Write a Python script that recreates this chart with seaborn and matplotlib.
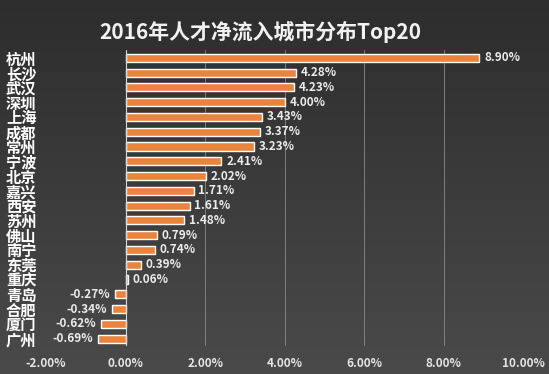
import numpy as np
import pandas as pd
import matplotlib.pyplot as plt
import seaborn as sns

# data
cities = ["杭州", "长沙", "武汉", "深圳", "上海", "成都", "常州", "宁波", "北京", "嘉兴",
          "西安", "苏州", "佛山", "南宁", "东莞", "重庆", "青岛", "合肥", "厦门", "广州"]
net_inflow = [8.90, 4.28, 4.23, 4.00, 3.43, 3.37, 3.23, 2.41, 2.02, 1.71,
              1.61, 1.48, 0.79, 0.74, 0.39, 0.06, -0.27, -0.34, -0.62, -0.69]
x_ticks = [-2, 0, 2, 4, 6, 8, 10]

df = pd.DataFrame({"city": cities, "value": net_inflow})

sns.set_theme(style="dark")
plt.rcParams["font.family"] = ["Noto Sans CJK SC", "DejaVu Sans"]

bg = "#3a3a3a"
fig = plt.figure(figsize=(5.49, 3.74), dpi=100, facecolor=bg)
ax = fig.add_axes([0.084, 0.075, 0.869, 0.79])
ax.set_facecolor("none")

# soft vertical gradient behind everything
grad = np.linspace(0, 1, 256).reshape(-1, 1)
bg_ax = fig.add_axes([0, 0, 1, 1], zorder=-1)
bg_ax.imshow(grad, aspect="auto", cmap=sns.blend_palette(["#2d2d2d", "#4a4a4a"], as_cmap=True),
             extent=[0, 1, 0, 1], origin="upper")
bg_ax.axis("off")

sns.barplot(data=df, x="value", y="city", orient="h", color="#ea843d",
            width=0.55, saturation=1, ax=ax, zorder=3)

ax.set_xlim(-2, 10)
ax.set_xticks(x_ticks)
ax.set_xticklabels([f"{t:.2f}%" for t in x_ticks], color="#e6e6e6", fontsize=8.5,
                   fontweight="bold")
for t in x_ticks[2:]:
    ax.axvline(t, color="#8a8a8a", lw=0.6, zorder=1)
ax.axvline(0, color="#d9d9d9", lw=0.8, zorder=4)

ax.set_xlabel("")
ax.set_ylabel("")
ax.tick_params(axis="y", length=0, pad=7, labelsize=11, labelcolor="white")
ax.tick_params(axis="x", length=0, pad=8)
for lbl in ax.get_yticklabels():
    lbl.set_fontweight("bold")
for s in ax.spines.values():
    s.set_visible(False)
ax.grid(False)

for i, v in enumerate(net_inflow):
    if v >= 0:
        ax.text(v + 0.12, i, f"{v:.2f}%", va="center", ha="left", color="#ececec",
                fontsize=8.5, fontweight="bold")
    else:
        ax.text(v - 0.12, i, f"{v:.2f}%", va="center", ha="right", color="#ececec",
                fontsize=8.5, fontweight="bold")

fig.suptitle("2016年人才净流入城市分布Top20", x=0.475, y=0.945, color="#f2f2f2",
             fontsize=15, fontweight="bold")

fig.savefig("out.png", dpi=100, facecolor=bg)
